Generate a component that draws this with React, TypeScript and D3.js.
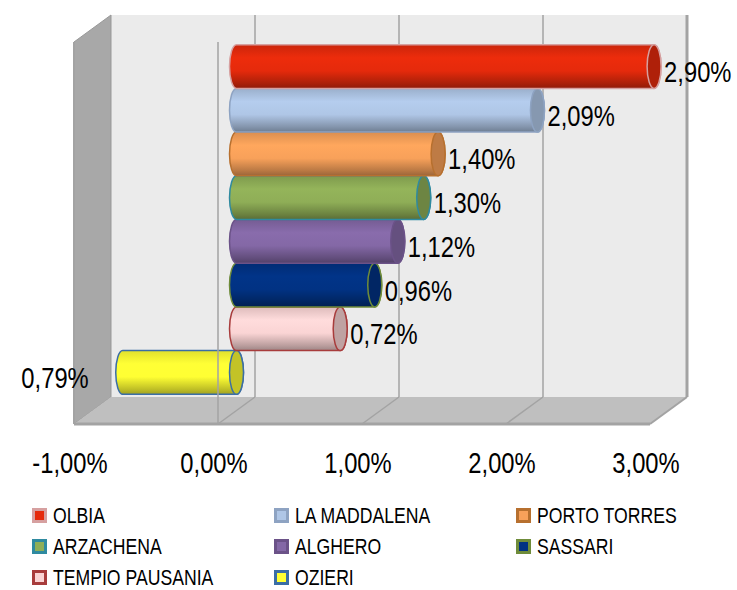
import React from "react";
import * as d3 from "d3";

const categories = ["OLBIA", "LA MADDALENA", "PORTO TORRES", "ARZACHENA", "ALGHERO", "SASSARI", "TEMPIO PAUSANIA", "OZIERI"];
const values = [2.9, 2.09, 1.4, 1.3, 1.12, 0.96, 0.72, -0.79];
const valueLabels = ["2,90%", "2,09%", "1,40%", "1,30%", "1,12%", "0,96%", "0,72%", "0,79%"];
const fills = ["#e52a0c", "#afc6e6", "#f8a15a", "#8fae57", "#8468a6", "#013283", "#fad4d4", "#ffff33"];
const strokes = ["#d6a0a0", "#8ea3c2", "#b7702f", "#2f8aa0", "#6b5288", "#6f8c3a", "#a83c3c", "#3b6ea5"];
const ticks = [-1, 0, 1, 2, 3];
const tickLabels = ["-1,00%", "0,00%", "1,00%", "2,00%", "3,00%"];

const W = 737;
const H = 590;
const FONT = "'Liberation Sans', Arial, sans-serif";

// back wall box and depth offset of the 3D frame
const wallTop = 15;
const wallBottom = 397;
const dx = -37;
const dy = 27;
const rx = 7;

const NarrowText = ({ x, y, size, anchor = "start", children }: any) => (
  <g transform={`translate(${x},${y}) scale(0.82,1)`}>
    <text fontFamily={FONT} fontSize={size} textAnchor={anchor} fill="#000">
      {children}
    </text>
  </g>
);

export default function App() {
  const xBack = d3.scaleLinear().domain([-1, 3]).range([111, 687]);
  const xMid = (v: number) => xBack(v) + dx / 2;
  const y = d3
    .scaleBand<string>()
    .domain(categories)
    .range([wallTop + dy / 2, wallBottom + dy / 2])
    .paddingInner(0)
    .paddingOuter(0.37);

  const [x0, x1] = xBack.range();
  const gridColor = "#a3a3a3";

  const order = d3.range(categories.length).reverse();

  return (
    <svg width={W} height={H} style={{ position: "absolute", left: 0, top: 0 }}>
      <defs>
        {fills.map((c, i) => (
          <linearGradient key={i} id={`cyl${i}`} x1="0" y1="0" x2="0" y2="1">
            <stop offset="0" stopColor={d3.color(c)!.darker(0.35).formatHex()} />
            <stop offset="0.3" stopColor={d3.color(c)!.brighter(0.1).formatHex()} />
            <stop offset="0.6" stopColor={c} />
            <stop offset="0.88" stopColor={d3.color(c)!.darker(0.8).formatHex()} />
            <stop offset="1" stopColor={d3.color(c)!.darker(1.3).formatHex()} />
          </linearGradient>
        ))}
      </defs>

      {/* back wall */}
      <rect x={x0} y={wallTop} width={x1 - x0} height={wallBottom - wallTop} fill="#ebebeb" />
      {/* side wall */}
      <polygon
        points={`${x0},${wallTop} ${x0},${wallBottom} ${x0 + dx},${wallBottom + dy} ${x0 + dx},${wallTop + dy}`}
        fill="#a8a8a8"
        stroke="#999"
        strokeWidth={1}
      />
      {/* floor */}
      <polygon
        points={`${x0},${wallBottom} ${x1},${wallBottom} ${x1 + dx},${wallBottom + dy} ${x0 + dx},${wallBottom + dy}`}
        fill="#bfbfbf"
      />
      <line x1={x0 + dx} x2={x1 + dx} y1={wallBottom + dy} y2={wallBottom + dy} stroke="#a3a3a3" strokeWidth={3} />
      <line x1={x0 + dx} x2={x0 + dx} y1={wallTop + dy} y2={wallBottom + dy} stroke="#a3a3a3" strokeWidth={2} />
      <line x1={x1} x2={x1} y1={wallTop} y2={wallBottom} stroke={gridColor} strokeWidth={3} />
      <line x1={x1} x2={x1 + dx} y1={wallBottom} y2={wallBottom + dy} stroke={gridColor} strokeWidth={2} />

      {/* gridlines on wall and floor */}
      {ticks.slice(1, -1).map((t) => (
        <g key={t}>
          <line x1={xBack(t)} x2={xBack(t)} y1={wallTop} y2={wallBottom} stroke={gridColor} strokeWidth={1.5} />
          <line x1={xBack(t)} x2={xBack(t) + dx} y1={wallBottom} y2={wallBottom + dy} stroke={gridColor} strokeWidth={1.5} />
        </g>
      ))}

      {/* cylinders, bottom first so upper ones overlap */}
      {order.map((i) => {
        const top = y(categories[i])!;
        const bot = top + y.bandwidth();
        const ry = (bot - top) / 2;
        const a = xMid(Math.min(0, values[i]));
        const b = xMid(Math.max(0, values[i]));
        const body = `M${a},${top} L${b},${top} A${rx},${ry} 0 0 1 ${b},${bot} L${a},${bot} A${rx},${ry} 0 0 1 ${a},${top} Z`;
        return (
          <g key={i}>
            <path d={body} fill={`url(#cyl${i})`} stroke={strokes[i]} strokeWidth={1.5} />
            <ellipse
              cx={b}
              cy={top + ry}
              rx={rx}
              ry={ry}
              fill={d3.color(fills[i])!.darker(0.75).formatHex()}
              stroke={strokes[i]}
              strokeWidth={1.5}
            />
          </g>
        );
      })}

      {/* category axis at zero, front plane */}
      <line x1={xBack(0) + dx} x2={xBack(0) + dx} y1={wallTop + dy} y2={wallBottom + dy} stroke={gridColor} strokeWidth={1.5} />

      {/* value labels */}
      {categories.map((c, i) => {
        const cy = y(c)! + y.bandwidth() / 2 + 15.5;
        return values[i] >= 0 ? (
          <NarrowText key={c} x={xMid(values[i]) + rx + 3} y={cy} size={29}>
            {valueLabels[i]}
          </NarrowText>
        ) : (
          <NarrowText key={c} x={xMid(values[i]) - 34} y={cy} size={29} anchor="end">
            {valueLabels[i]}
          </NarrowText>
        );
      })}

      {/* value axis tick labels */}
      {ticks.map((t, i) => (
        <NarrowText key={t} x={xBack(t) + dx - 4} y={473} size={29} anchor="middle">
          {tickLabels[i]}
        </NarrowText>
      ))}

      {/* legend */}
      {categories.map((c, i) => {
        const mx = 32 + (i % 3) * 242;
        const by = 523 + Math.floor(i / 3) * 31;
        return (
          <g key={c}>
            <rect x={mx + 1.5} y={by - 13.5} width={12} height={12} fill={fills[i]} stroke={strokes[i]} strokeWidth={3} />
            <NarrowText x={mx + 21} y={by} size={21.5}>
              {c}
            </NarrowText>
          </g>
        );
      })}
    </svg>
  );
}
